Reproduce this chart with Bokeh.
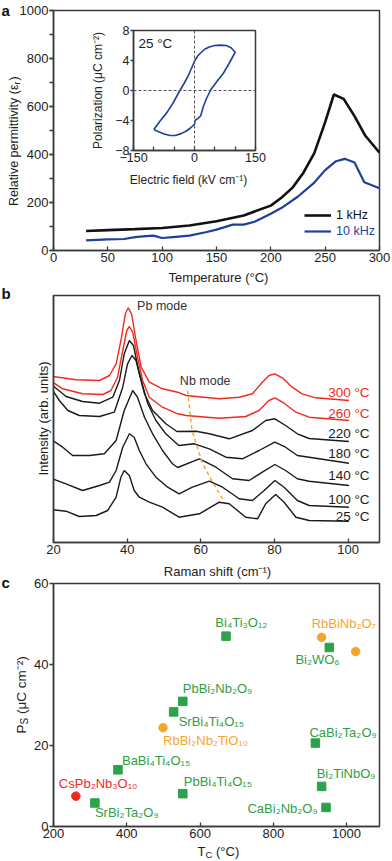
import math
from bokeh.plotting import figure
from bokeh.models import (Range1d, Label, Legend, LegendItem, FixedTicker,
                          SingleIntervalTicker, Span, GridBox, Column)
from bokeh.embed import file_html
from bokeh.resources import INLINE

FONT = "Liberation Sans"
TXT = "#222222"
AX = "#3a3a3a"
BLUE = "#1f3f9b"
RED = "#f02a1e"
ORANGE = "#f6a52c"
GREEN = "#2ca24a"
GREEN_T = "#2f9e45"

# ---------------- panel a data ----------------
temp_1k = [30, 50, 75, 100, 125, 150, 175, 200, 210, 220, 230, 240, 250, 258, 267, 277, 287, 300]
perm_1k = [81, 85, 89, 94, 104, 122, 146, 187, 221, 262, 324, 406, 535, 650, 632, 560, 478, 408]
temp_10k = [30, 50, 65, 75, 85, 92, 100, 110, 125, 140, 150, 165, 175, 185, 200, 210, 225, 240,
            250, 260, 268, 277, 286, 300]
perm_10k = [42, 46, 48, 56, 60, 62, 52, 56, 62, 76, 87, 108, 108, 120, 153, 178, 225, 283,
            335, 372, 382, 367, 284, 259]

loop_field = [-100, -85, -68, -52, -37, -25, -16, -7, 0, 8, 15, 25, 36, 50, 64, 78, 90, 100,
              85, 71, 55, 40, 30, 22, 15, 8, 3, 1, 0, -10, -20, -33, -47, -60, -75, -88, -100]
loop_pol = [-5.2, -4.1, -2.95, -1.6, -0.1, 1.0, 1.9, 3.0, 3.9, 4.6, 5.0, 5.5, 5.8, 6.0, 6.05, 6.0, 5.7, 5.1,
            3.6, 2.3, 1.2, 0.1, -1.0, -2.1, -3.4, -3.75, -3.9, -4.1, -4.5, -5.0, -5.4, -5.75, -6.0, -6.0, -5.8, -5.5, -5.2]

# ---------------- panel b data ----------------
shift_300 = [19.8, 26.1, 32.5, 35.2, 37.0, 38.3, 39.5, 40.3, 41.2, 42.4, 43.8, 46.0, 49.6, 53.7, 56.0,
             65.0, 70.4, 74.0, 76.7, 78.5, 80.1, 82.1, 84.8, 87.5, 91.2, 100.2]
int_300 = [166, 162.7, 162, 167, 178.7, 202, 228.7, 234.7, 228.7, 202, 175.3, 160.3, 153.7, 150.3, 147,
           143.7, 145.3, 148.7, 160.3, 167, 168.7, 164.7, 155.3, 148.7, 144.7, 142]
shift_260 = [19.8, 22.5, 27.9, 33.4, 35.6, 37.4, 38.8, 39.9, 40.6, 41.5, 42.8, 44.2, 46.0, 49.6, 53.7,
             56.0, 65.0, 72.2, 75.8, 78.5, 80.1, 82.6, 85.8, 89.4, 100.2]
int_260 = [160.3, 153.7, 148.7, 148, 152, 165.3, 192, 212, 216, 210.3, 185.3, 162, 145.3, 135.3, 128.7,
           127, 124.3, 126, 132, 142, 144.7, 139.3, 130.3, 125.3, 122]
shift_220 = [19.8, 23.4, 27.9, 32.5, 36.1, 37.9, 39.2, 40.6, 41.7, 43.1, 44.7, 46.9, 50.5, 53.5, 58.7,
             62.3, 67.7, 74.0, 77.6, 80.1, 83.0, 86.2, 89.4, 100.2]
int_220 = [157, 146, 141, 139.3, 145.3, 162, 188.7, 202, 197, 172, 148.7, 132, 118.7, 111, 111.3,
           108.7, 103.7, 112, 122, 123.7, 117, 108.7, 104, 101]
shift_180 = [19.8, 21.6, 23.9, 27.0, 32.5, 36.5, 38.8, 40.1, 41.3, 42.4, 43.8, 45.6, 47.8, 50.5, 54.0,
             58.2, 62.3, 66.8, 71.3, 75.8, 80.1, 83.0, 86.2, 89.4, 100.2]
int_180 = [152, 142, 132, 127, 126, 130.3, 155.3, 178.7, 187, 182, 162, 138.7, 122, 108.7, 97,
           98.7, 93.7, 85.3, 83.7, 92, 100.3, 95.3, 87, 85.3, 79.3]
shift_140 = [19.8, 22.5, 25.2, 29.8, 33.8, 37.0, 39.2, 41.5, 42.8, 44.7, 46.9, 49.6, 52.3, 53.7, 59.6,
             64.1, 68.6, 73.1, 76.7, 80.1, 83.0, 86.2, 89.4, 100.2]
int_140 = [102, 95.3, 87, 87, 88.7, 102, 132, 152, 145.3, 125.3, 108.7, 92, 78.7, 75, 83.7,
           75.3, 63.7, 62, 70.3, 78, 72, 63.7, 61.3, 57]
shift_100 = [19.8, 23.4, 27.9, 32.5, 35.2, 37.0, 38.8, 40.6, 41.9, 43.3, 45.1, 47.8, 51.0, 54.1, 57.7,
             62.3, 65.9, 70.4, 74.0, 77.2, 80.1, 82.6, 86.2, 89.4, 100.2]
int_100 = [63.7, 58.7, 52, 57, 60.3, 72, 95.3, 108.7, 105.3, 92, 78.7, 65.3, 55.3, 48.7, 55.3,
           61.3, 55.3, 43.7, 42, 52, 62, 55.3, 42, 37, 35.3]
shift_25 = [19.8, 23.4, 27.0, 31.6, 34.7, 37.0, 38.3, 39.2, 40.6, 41.9, 43.3, 46.0, 49.6, 54.1, 59.6,
            65.0, 67.7, 72.2, 75.4, 77.6, 80.3, 82.6, 85.8, 89.4, 100.2]
int_25 = [32.7, 31.3, 26, 27, 32, 45.3, 65.3, 72, 67, 52, 45.3, 40.3, 35.3, 25.3, 28.7,
          40.3, 38.7, 25.3, 23.7, 38.7, 48, 40.3, 25.3, 22, 21.3]
raman_temps = ["300 °C", "260 °C", "220 °C", "180 °C", "140 °C", "100 °C", "25 °C"]
raman_label_level = [150.3, 129.3, 108.7, 88.7, 67, 42.7, 26]
nb_shift = [56.4, 57.6, 60.5, 63.2, 65.9]
nb_int = [152, 112, 78.7, 60.3, 43.7]

# ---------------- panel c data ----------------
green_names = ["Bi₄Ti₃O₁₂", "Bi₂WO₆", "PbBi₂Nb₂O₉", "SrBi₄Ti₄O₁₅", "CaBi₂Ta₂O₉",
               "BaBi₄Ti₄O₁₅", "Bi₂TiNbO₉", "PbBi₄Ti₄O₁₅", "SrBi₂Ta₂O₉", "CaBi₂Nb₂O₉"]
green_tc = [671, 953, 553, 528, 915, 376, 932, 553, 313, 944]
green_ps = [47.0, 44.2, 30.9, 28.3, 20.6, 14.0, 9.9, 8.1, 5.8, 4.7]
orange_names = ["RbBiNb₂O₇", "", "RbBi₂Nb₂TiO₁₀"]
orange_tc = [932, 1025, 499]
orange_ps = [46.7, 43.2, 24.4]
red_names = ["CsPb₂Nb₃O₁₀"]
red_tc = [261]
red_ps = [7.5]

# label placement (screen px, style only)
green_dx = [-10.7, 10.3, 0, 5, -6, 4, -5, 1, 0, -8.4]
green_dy = [13.7, -12.3, 13.2, -9.6, 10.6, 9.3, 12.6, 12.2, -9.2, -1.3]
green_align = ["left", "right", "left", "left", "left", "left", "left", "left", "left", "right"]
orange_dx = [-10, 0, 0]
orange_dy = [14, 0, -12.8]
red_dx = [-17]
red_dy = [12.3]


def base_fig(w, h, xr, yr, bl, br, bt, bb, **kw):
    p = figure(width=w, height=h, x_range=xr, y_range=yr, output_backend="svg",
               toolbar_location=None, title=None, min_border_left=bl, min_border_right=br,
               min_border_top=bt, min_border_bottom=bb, **kw)
    p.xgrid.visible = False
    p.ygrid.visible = False
    p.outline_line_color = AX
    p.outline_line_width = 1.5
    p.outline_line_alpha = 1.0
    p.background_fill_color = "white"
    p.border_fill_color = "white"
    for ax in list(p.xaxis) + list(p.yaxis):
        ax.axis_line_color = AX
        ax.axis_line_width = 1.5
        ax.major_tick_line_color = AX
        ax.major_tick_line_width = 1.3
        ax.minor_tick_line_color = AX
        ax.minor_tick_line_width = 1.3
        ax.major_label_text_font = FONT
        ax.major_label_text_font_size = "13px"
        ax.major_label_text_color = TXT
        ax.axis_label = None
    return p


ROT = math.pi / 2

# ================= panel a =================
pa = base_fig(392, 284, Range1d(0, 300), Range1d(0, 1000), 52, 11, 10, 30)
pa.xaxis.ticker = SingleIntervalTicker(interval=50, num_minor_ticks=0)
pa.xaxis.major_tick_in = 4
pa.xaxis.major_tick_out = 0
pa.xaxis.major_label_standoff = 2
pa.yaxis.ticker = SingleIntervalTicker(interval=200, num_minor_ticks=2)
pa.yaxis.major_tick_in = 0
pa.yaxis.major_tick_out = 4
pa.yaxis.minor_tick_in = 0
pa.yaxis.minor_tick_out = 4
pa.yaxis.major_label_standoff = 1

r1 = pa.line(temp_1k, perm_1k, line_color="#111111", line_width=2.6)
r10 = pa.line(temp_10k, perm_10k, line_color=BLUE, line_width=2.2)

for lbl, rend, col, ybot in [("1 kHz", r1, "#111111", 27), ("10 kHz", r10, BLUE, 11)]:
    leg = Legend(items=[LegendItem(label=lbl, renderers=[rend])], location=(251, ybot),
                 glyph_width=27, glyph_height=16, label_height=16, label_standoff=5,
                 padding=0, margin=0, spacing=0, border_line_alpha=0, background_fill_alpha=0,
                 label_text_font=FONT, label_text_font_size="12.5px", label_text_color=col)
    pa.add_layout(leg)

# ================= inset =================
pin = base_fig(188, 164, Range1d(-150, 150), Range1d(-8, 8), 35, 10, 9, 34, margin=(20, 0, 0, 80))
pin.border_fill_color = None
pin.xaxis.ticker = FixedTicker(ticks=[-150, -100, -50, 0, 50, 100, 150])
pin.xaxis.major_label_overrides = {-100: "", -50: "", 50: "", 100: ""}
pin.xaxis.major_tick_in = 4
pin.xaxis.major_tick_out = 0
pin.xaxis.major_label_standoff = 2
pin.xaxis.major_label_text_font_size = "12.5px"
pin.yaxis.ticker = FixedTicker(ticks=[-8, -4, 0, 4, 8])
pin.yaxis.major_tick_in = 0
pin.yaxis.major_tick_out = 3
pin.yaxis.major_label_standoff = 1
pin.yaxis.major_label_text_font_size = "12.5px"
pin.add_layout(Span(location=0, dimension="height", line_color="#555555", line_dash="3 2", line_width=1))
pin.add_layout(Span(location=0, dimension="width", line_color="#555555", line_dash="3 2", line_width=1))
pin.line(loop_field, loop_pol, line_color=BLUE, line_width=1.6)
pin.add_layout(Label(x=-138, y=6.3, text="25 °C", text_font=FONT, text_font_size="13.5px",
                     text_baseline="middle", text_color=TXT))

# ================= panel b =================
pb = base_fig(392, 290, Range1d(20, 108.5), Range1d(0, 247), 53, 12, 11, 32)
pb.xaxis.ticker = FixedTicker(ticks=[20, 40, 60, 80, 100])
pb.xaxis.major_tick_in = 4
pb.xaxis.major_tick_out = 0
pb.xaxis.major_label_standoff = 2
pb.yaxis.ticker = FixedTicker(ticks=[])
pb.yaxis.major_tick_in = 0
pb.yaxis.major_tick_out = 0

curves = [(shift_300, int_300), (shift_260, int_260), (shift_220, int_220), (shift_180, int_180),
          (shift_140, int_140), (shift_100, int_100), (shift_25, int_25)]
for i, (xs, ys) in enumerate(curves):
    col = RED if i < 2 else "#1a1a1a"
    pb.line(xs, ys, line_color=col, line_width=1.4)
    pb.add_layout(Label(x=105.8, y=raman_label_level[i], text=raman_temps[i], text_font=FONT,
                        text_font_size="13.5px", text_align="right", text_baseline="middle",
                        text_color=col))
pb.line(nb_shift, nb_int, line_color=ORANGE, line_width=1.4, line_dash="4 3")
pb.add_layout(Label(x=42.7, y=237, text="Pb mode", text_font=FONT, text_font_size="12.5px",
                    text_baseline="middle", text_color="#333333"))
pb.add_layout(Label(x=54.3, y=161.3, text="Nb mode", text_font=FONT, text_font_size="12.5px",
                    text_baseline="middle", text_color="#333333"))

# ================= panel c =================
pc = base_fig(392, 287, Range1d(200, 1090), Range1d(0, 60), 52, 13, 9, 35)
pc.xaxis.ticker = SingleIntervalTicker(interval=200, num_minor_ticks=0)
pc.xaxis.major_tick_in = 4
pc.xaxis.major_tick_out = 0
pc.xaxis.major_label_standoff = 2
pc.yaxis.ticker = SingleIntervalTicker(interval=20, num_minor_ticks=0)
pc.yaxis.major_tick_in = 0
pc.yaxis.major_tick_out = 4
pc.yaxis.major_label_standoff = 1

pc.scatter(green_tc, green_ps, marker="square", size=8.5, fill_color=GREEN, line_color=GREEN)
pc.scatter(orange_tc, orange_ps, marker="circle", size=8.5, fill_color=ORANGE, line_color=ORANGE)
pc.scatter(red_tc, red_ps, marker="circle", size=8.5, fill_color=RED, line_color=RED)


def name_labels(names, xs, ys, dxs, dys, aligns, color):
    for n, x, y, dx, dy, al in zip(names, xs, ys, dxs, dys, aligns):
        if not n:
            continue
        pc.add_layout(Label(x=x, y=y, text=n, x_offset=dx, y_offset=dy, text_align=al,
                            text_baseline="middle", text_font=FONT, text_font_size="13px",
                            text_color=color))


name_labels(green_names, green_tc, green_ps, green_dx, green_dy, green_align, GREEN_T)
name_labels(orange_names, orange_tc, orange_ps, orange_dx, orange_dy, ["left"] * 3, ORANGE)
name_labels(red_names, red_tc, red_ps, red_dx, red_dy, ["left"], RED)

# ================= text layer (axis titles, panel letters) =================
# A transparent full-page figure laid over the panels (outside the grid, so its
# frame is not aligned to the panels' frames); its ranges are page pixels.
ov = figure(width=392, height=861, x_range=Range1d(0, 392), y_range=Range1d(861, 0),
            output_backend="svg", toolbar_location=None, title=None,
            x_axis_location=None, y_axis_location=None, min_border=0,
            min_border_left=0, min_border_right=0, min_border_top=0, min_border_bottom=0,
            margin=(-861, 0, 0, 0))
ov.xgrid.visible = False
ov.ygrid.visible = False
ov.outline_line_color = None
ov.background_fill_color = None
ov.border_fill_color = None


def t(text, x, y, size, align="left", baseline="alphabetic", angle=0.0, color=TXT,
      style="normal", dx=0, dy=0):
    ov.add_layout(Label(x=x, y=y, text=text, text_font=FONT, text_font_size=f"{size}px",
                        text_align=align, text_baseline=baseline, angle=angle,
                        text_color=color, text_font_style=style, x_offset=dx, y_offset=dy))


# panel a
t("a", 1, 10, 15, style="bold", color="#111111")
t("Temperature (°C)", 218, 276.5, 13, align="center")
t("Relative permittivity (ε", 13, 84, 12.5, align="right", angle=ROT)
t("r", 13, 84, 9, align="left", angle=ROT, dx=3)
t(")", 13, 84, 12.5, align="left", angle=ROT, dy=4)
# inset
t("Polarization (μC cm⁻²)", 97, 90, 12, align="center", angle=ROT)
t("Electric field (kV cm⁻¹)", 188, 179, 12, align="center")
# panel b
t("b", 1, 293, 15, style="bold", color="#111111")
t("Raman shift (cm⁻¹)", 217, 571, 13, align="center")
t("Intensity (arb. units)", 43, 418, 13, align="center", angle=ROT)
# panel c
t("c", 1, 582, 15, style="bold", color="#111111")
t("T", 205, 851, 13, align="right")
t("C", 205, 851, 9.5, align="left", dy=-2.5)
t("(°C)", 205, 851, 13, align="left", dx=10.5)
t("P", 21, 724, 13.5, align="right", angle=ROT)
t("S", 21, 724, 10, align="left", angle=ROT, dx=3)
t("(μC cm⁻²)", 21, 724, 13.5, align="left", angle=ROT, dy=10.4)

grid = GridBox(children=[(pa, 0, 0), (pin, 0, 0), (pb, 1, 0), (pc, 2, 0)])
layout = Column(children=[grid, ov], spacing=0)

with open("out.html", "w") as f:
    f.write(file_html(layout, INLINE))
